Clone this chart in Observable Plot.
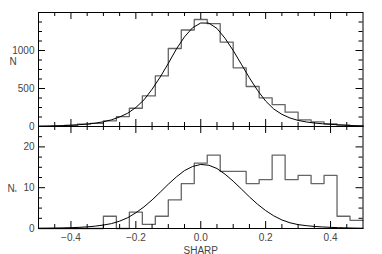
<!DOCTYPE html>
<html><head><meta charset="utf-8">
<script src="https://cdn.jsdelivr.net/npm/d3@7"></script>
<script src="https://cdn.jsdelivr.net/npm/@observablehq/plot@0.6"></script>
<style>
body{margin:0;background:#fff}
#c{position:relative;width:382px;height:254px;overflow:hidden;background:#fff}
#c svg{position:absolute;left:0;overflow:visible}
</style>
</head><body><div id="c"></div>
<script>
const binEdges = [-0.50,-0.46,-0.42,-0.38,-0.34,-0.30,-0.26,-0.22,-0.18,-0.14,-0.10,-0.06,-0.02,0.02,0.06,0.10,0.14,0.18,0.22,0.26,0.30,0.34,0.38,0.42,0.46,0.50];
const countsAll = [5,8,14,30,42,75,130,240,402,665,1026,1270,1408,1354,1111,772,526,377,289,189,88,61,35,18,9];
const countsStar = [0,0,0,0,0,3,0,4,1,3,7,11,16,18,14,14,11,12,18,12,13,11,13,3,2];
const curveX = [-0.500,-0.475,-0.450,-0.425,-0.400,-0.375,-0.350,-0.325,-0.300,-0.275,-0.250,-0.225,-0.200,-0.175,-0.150,-0.125,-0.100,-0.075,-0.050,-0.025,0.000,0.025,0.050,0.075,0.100,0.125,0.150,0.175,0.200,0.225,0.250,0.275,0.300,0.325,0.350,0.375,0.400,0.425,0.450,0.475,0.500];
const curveAll = [3,5,8,12,17,24,32,44,62,88,125,175,250,350,490,650,830,1020,1180,1300,1362,1360,1290,1160,1000,820,640,475,335,230,160,112,80,60,46,36,28,22,16,11,7];
const curveStar = [0.05,0.07,0.1,0.14,0.2,0.28,0.4,0.58,0.85,1.2,1.8,2.65,3.85,5.3,7.0,8.9,10.85,12.65,14.2,15.2,15.7,15.5,14.7,13.3,11.6,9.7,7.75,5.95,4.4,3.1,2.1,1.4,0.95,0.7,0.5,0.38,0.28,0.2,0.15,0.1,0.07];
const xMajor = [-0.4,-0.2,0,0.2,0.4];
const xMinor = [-0.45,-0.35,-0.3,-0.25,-0.15,-0.1,-0.05,0.05,0.1,0.15,0.25,0.3,0.35,0.45];
const yMajorAll = [0,500,1000];
const yMinorAll = [125,250,375,625,750,875,1125,1250,1375];
const yMajorStar = [0,10,20];
const yMinorStar = [2.5,5,7.5,12.5,15,17.5,22.5];

const W = 382, ML = 38, MR = 19.5, innerW = W - ML - MR;
const style = {fontFamily: "'Liberation Sans', Arial, sans-serif", fontSize: "10px", color: "#444", background: "transparent"};

function steps(counts) {
  return binEdges.map((e, i) => ({x: e, y: counts[Math.min(i, counts.length - 1)]}));
}
function curvePts(vals) { return curveX.map((x, i) => ({x, y: vals[i]})); }
function frameTicks(yMaj, yMin, innerH) {
  const M = 7, m = 4, s = {stroke: "#000", strokeWidth: 1};
  return [
    Plot.tickX(xMajor, {x: d => d, insetTop: innerH - M, ...s}),
    Plot.tickX(xMajor, {x: d => d, insetBottom: innerH - M, ...s}),
    Plot.tickX(xMinor, {x: d => d, insetTop: innerH - m, ...s}),
    Plot.tickX(xMinor, {x: d => d, insetBottom: innerH - m, ...s}),
    Plot.tickY(yMaj, {y: d => d, insetRight: innerW - M, ...s}),
    Plot.tickY(yMaj, {y: d => d, insetLeft: innerW - M, ...s}),
    Plot.tickY(yMin, {y: d => d, insetRight: innerW - m, ...s}),
    Plot.tickY(yMin, {y: d => d, insetLeft: innerW - m, ...s})
  ];
}
const fmtX = d => (d < 0 ? "\u2212" : "") + Math.abs(d).toFixed(1);

const topPlot = Plot.plot({
  width: W, height: 126, marginLeft: ML, marginRight: MR, marginTop: 12, marginBottom: 0,
  x: {domain: [-0.5, 0.5], axis: null},
  y: {domain: [0, 1500]},
  style,
  marks: [
    Plot.line(steps(countsAll), {x: "x", y: "y", curve: "step-after", stroke: "#666", strokeWidth: 1.3}),
    Plot.line(curvePts(curveAll), {x: "x", y: "y", stroke: "#000", strokeWidth: 1}),
    ...frameTicks(yMajorAll, yMinorAll, 114),
    Plot.frame({stroke: "#000"}),
    Plot.axisY(yMajorAll, {anchor: "left", tickSize: 0, tickPadding: 4, tickFormat: d => String(d), label: null}),
    Plot.text(["N"], {frameAnchor: "left", dx: -29, dy: -8, text: d => d})
  ]
});
topPlot.style.top = "0px";

const bottomPlot = Plot.plot({
  width: W, height: 129, marginLeft: ML, marginRight: MR, marginTop: 1, marginBottom: 26,
  x: {domain: [-0.5, 0.5]},
  y: {domain: [0, 25]},
  style,
  marks: [
    Plot.line(steps(countsStar), {x: "x", y: "y", curve: "step-after", stroke: "#666", strokeWidth: 1.3}),
    Plot.line(curvePts(curveStar), {x: "x", y: "y", stroke: "#000", strokeWidth: 1}),
    ...frameTicks(yMajorStar, yMinorStar, 102),
    Plot.frame({stroke: "#000"}),
    Plot.axisY(yMajorStar, {anchor: "left", tickSize: 0, tickPadding: 4, tickFormat: d => String(d), label: null}),
    Plot.axisX(xMajor, {anchor: "bottom", tickSize: 0, tickPadding: 5, tickFormat: fmtX, label: null}),
    Plot.text(["SHARP"], {frameAnchor: "bottom", dy: 25, text: d => d}),
    Plot.text(["N"], {frameAnchor: "left", dx: -31, dy: 11, text: d => d}),
    Plot.text(["*"], {frameAnchor: "left", dx: -24, dy: 15, fontSize: 6, text: d => d})
  ]
});
bottomPlot.style.top = "125px";

document.getElementById("c").append(topPlot, bottomPlot);
</script>
</body></html>
